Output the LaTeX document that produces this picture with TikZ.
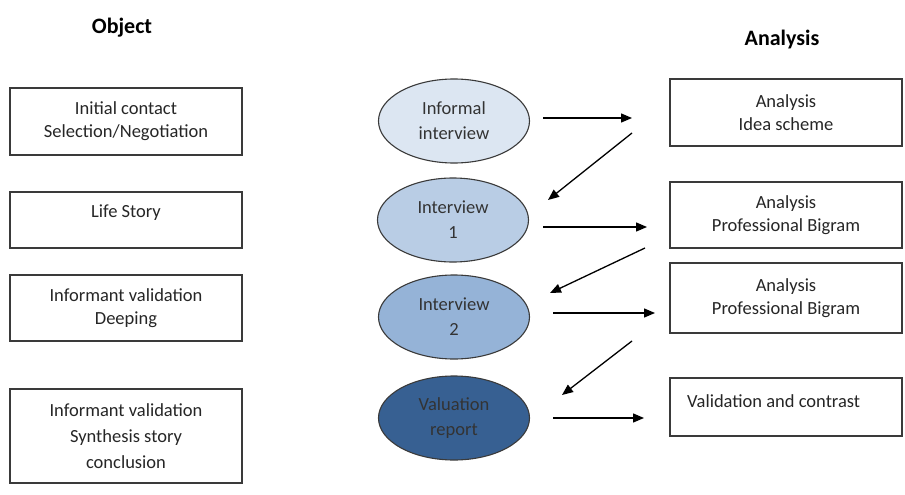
\documentclass[tikz,border=0pt]{standalone}
\usepackage{fontspec}
\setmainfont{Carlito}
\usetikzlibrary{shapes.geometric,arrows.meta}
\definecolor{ovA}{HTML}{DCE6F2}
\definecolor{ovB}{HTML}{B9CDE5}
\definecolor{ovC}{HTML}{95B3D7}
\definecolor{ovD}{HTML}{376092}
\definecolor{edge}{HTML}{3A3A3A}
\begin{document}
\begin{tikzpicture}[x=1pt,y=-1pt,
  box/.style={draw=edge, line width=1.1pt, minimum width=232pt, align=center, inner sep=0pt, font=\fontsize{18.5}{23}\selectfont, text=black!85},
  oval/.style={ellipse, draw=edge, line width=1.1pt, minimum width=151pt, minimum height=84pt, align=center, inner sep=0pt, font=\fontsize{18.5}{25}\selectfont, text=black!80},
  title/.style={font=\fontsize{22}{26}\selectfont\bfseries},
  arr/.style={-{Triangle[length=11pt,width=9pt]}, line width=1.3pt}]
\useasboundingbox (0,0) rectangle (905,495);
\fill[white] (0,0) rectangle (905,495);

\node[title] (tobj) at (122,28) {Object};
\node[title] (tana) at (782,40) {Analysis};

\node[box, minimum height=67pt] (l1) at (126,121.5) {Initial contact\\Selection/Negotiation};
\node[box, minimum height=56pt, text depth=18pt] (l2) at (126,220) {Life Story};
\node[box, minimum height=66pt] (l3) at (126,308) {Informant validation\\Deeping};
\node[box, minimum height=94pt, font=\fontsize{18.5}{26}\selectfont] (l4) at (126,436) {Informant validation\\Synthesis story\\conclusion};

\node[oval, fill=ovA] (e1) at (454,121) {Informal\\interview};
\node[oval, fill=ovB] (e2) at (453,220) {Interview\\1};
\node[oval, fill=ovC] (e3) at (454,317) {Interview\\2};
\node[oval, fill=ovD] (e4) at (454,418) {Valuation\\report};

\node[box, minimum height=67pt] (r1) at (786,112.5) {Analysis\\Idea scheme};
\node[box, minimum height=66pt] (r2) at (786,215) {Analysis\\Professional Bigram};
\node[box, minimum height=70pt] (r3) at (786,298) {Analysis\\Professional Bigram};
\node[box, minimum height=58pt] (r4) at (786,407) {};
\node[anchor=west, inner sep=0pt, font=\fontsize{18.5}{23}\selectfont, text=black!85] (r4t) at (687,401) {Validation and contrast};

\coordinate (a1s) at (543,118); \coordinate (a1e) at (632,118);
\coordinate (a2s) at (632,133); \coordinate (a2e) at (548,200);
\coordinate (a3s) at (543,227); \coordinate (a3e) at (647,227);
\coordinate (a4s) at (645,248); \coordinate (a4e) at (550,293);
\coordinate (a5s) at (553,313); \coordinate (a5e) at (655,313);
\coordinate (a6s) at (632,341); \coordinate (a6e) at (562,395);
\coordinate (a7s) at (553,418); \coordinate (a7e) at (644,418);

\draw[arr] (a1s) -- (a1e);
\draw[arr] (a2s) -- (a2e);
\draw[arr] (a3s) -- (a3e);
\draw[arr] (a4s) -- (a4e);
\draw[arr] (a5s) -- (a5e);
\draw[arr] (a6s) -- (a6e);
\draw[arr] (a7s) -- (a7e);
\end{tikzpicture}
\end{document}
